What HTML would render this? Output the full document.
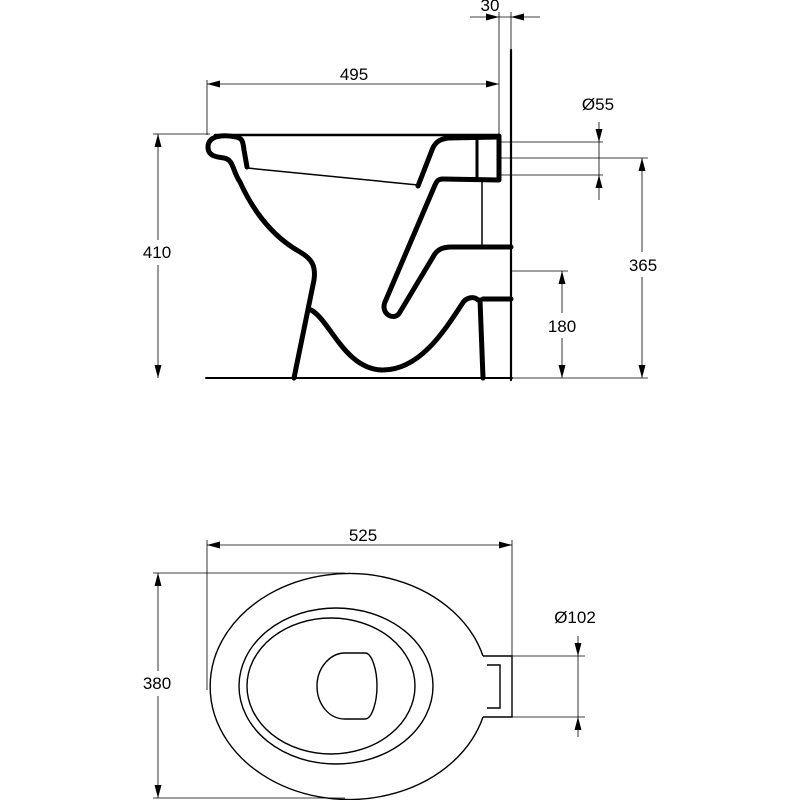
<!DOCTYPE html>
<html><head><style>html,body{margin:0;padding:0;background:#fff}svg{display:block}</style></head>
<body>
<svg width="800" height="800" viewBox="0 0 800 800" xmlns="http://www.w3.org/2000/svg" font-family="Liberation Sans, sans-serif" font-size="17">
<g stroke="#000" stroke-width="0.8" fill="none">
<line x1="470" y1="17" x2="540" y2="17"/>
<line x1="499" y1="12" x2="499" y2="134"/>
<line x1="511" y1="12" x2="511" y2="50"/>
<line x1="207" y1="84" x2="499" y2="84"/>
<line x1="207" y1="80" x2="207" y2="135"/>
<line x1="153" y1="134" x2="210" y2="134"/>
<line x1="158" y1="134" x2="158" y2="240"/>
<line x1="158" y1="265" x2="158" y2="378"/>
<line x1="500" y1="142" x2="603" y2="142"/>
<line x1="500" y1="175" x2="603" y2="175"/>
<line x1="500" y1="158" x2="648" y2="158"/>
<line x1="599" y1="122" x2="599" y2="200"/>
<line x1="642" y1="158" x2="642" y2="252"/>
<line x1="642" y1="277" x2="642" y2="378"/>
<line x1="512" y1="378" x2="648" y2="378"/>
<line x1="512" y1="271" x2="568" y2="271"/>
<line x1="562" y1="271" x2="562" y2="313"/>
<line x1="562" y1="338" x2="562" y2="378"/>
<line x1="207" y1="545" x2="512" y2="545"/>
<line x1="207" y1="540" x2="207" y2="690"/>
<line x1="512" y1="540" x2="512" y2="656"/>
<line x1="153" y1="573" x2="345" y2="573"/>
<line x1="158" y1="573" x2="158" y2="671"/>
<line x1="158" y1="696" x2="158" y2="798"/>
<line x1="153" y1="798" x2="345" y2="798"/>
<line x1="512" y1="656" x2="585" y2="656"/>
<line x1="512" y1="717" x2="585" y2="717"/>
<line x1="578" y1="636" x2="578" y2="737"/>
</g>
<g fill="#000">
<path d="M499,17 l-13,-3.5 v7z"/>
<path d="M511,17 l13,-3.5 v7z"/>
<path d="M207,84 l13,-3.5 v7z"/>
<path d="M499,84 l-13,-3.5 v7z"/>
<path d="M158,134 l-3.5,13 h7z"/>
<path d="M158,378 l-3.5,-13 h7z"/>
<path d="M599,142 l-3.5,-13 h7z"/>
<path d="M599,175 l-3.5,13 h7z"/>
<path d="M642,158 l-3.5,13 h7z"/>
<path d="M642,378 l-3.5,-13 h7z"/>
<path d="M562,271 l-3.5,13 h7z"/>
<path d="M562,378 l-3.5,-13 h7z"/>
<path d="M207,545 l13,-3.5 v7z"/>
<path d="M512,545 l-13,-3.5 v7z"/>
<path d="M158,573 l-3.5,13 h7z"/>
<path d="M158,798 l-3.5,-13 h7z"/>
<path d="M578,656 l-3.5,-13 h7z"/>
<path d="M578,717 l-3.5,13 h7z"/>
</g>
<g fill="#000" text-anchor="middle">
<text x="490" y="11">30</text>
<text x="354" y="80">495</text>
<text x="157" y="258">410</text>
<text x="598" y="110">Ø55</text>
<text x="643" y="271">365</text>
<text x="562" y="332">180</text>
<text x="363" y="541">525</text>
<text x="575" y="623">Ø102</text>
<text x="157" y="689">380</text>
</g>
<g stroke="#000" fill="none" stroke-linejoin="round" stroke-linecap="round">
<line x1="511" y1="50" x2="511" y2="380" stroke-width="2.2"/>
<line x1="206" y1="378" x2="512" y2="378" stroke-width="2"/>
<line x1="215" y1="135" x2="499" y2="135" stroke-width="2.5"/>
<path d="M236,137 C222,134 208,136 208,147 C208,156 216,157 224,158 C234,160 232,170 240,182 C255,215 275,238 300,252 C312,259 316,266 314,280 L294,378" stroke-width="5"/>
<path d="M236,137 C243,138 243,143 244,150 L247,167" stroke-width="5"/>
<path d="M247,168 L418,185" stroke-width="1.5"/>
<path d="M418,186 L432,150 C435,142 440,139 448,138 L499,137" stroke-width="5"/>
<path d="M499,136 L499,180 L443,179 C438,179 437,181 435,185 L385,302 C380,314 395,322 400,312 L433,257 C437,249 443,247 452,247 L511,247" stroke-width="5"/>
<line x1="477" y1="137" x2="477" y2="179" stroke-width="3"/>
<line x1="482" y1="181" x2="482" y2="246" stroke-width="1.5"/>
<path d="M311,310 C330,320 345,370 383,370 C420,370 445,330 462,304 C466,297 474,296 478,300" stroke-width="5"/>
<path d="M480,300 L483,378" stroke-width="5"/>
<line x1="483" y1="299" x2="511" y2="299" stroke-width="5"/>
</g>
<g stroke="#000" fill="none" stroke-width="1.4">
<path d="M483,656 A139,113 0 1 0 483,717"/>
<ellipse cx="336" cy="686" rx="97" ry="78"/>
<ellipse cx="331" cy="686" rx="84" ry="68"/>
<path d="M365,653 C372,653 377,670 377,686 C377,702 372,719 365,719 L345,719 C328,719 317,703 317,686 C317,668 330,653 345,653 Z"/>
<path d="M483,656 H512 V717 H483"/>
<path d="M487,665 H500 V708 H487"/>
</g>
</svg>
</body></html>
